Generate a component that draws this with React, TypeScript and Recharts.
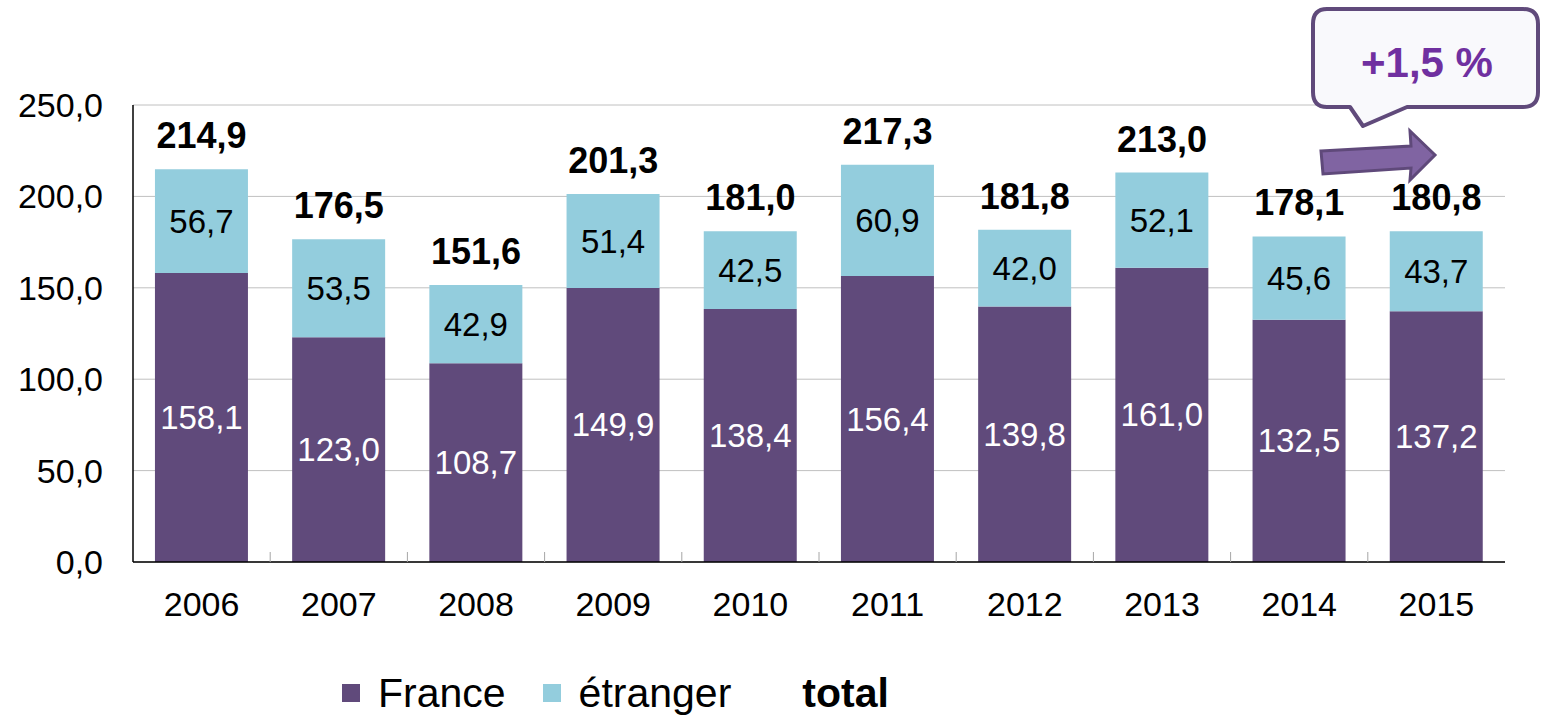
import { ComposedChart, Bar, Line, XAxis, YAxis, CartesianGrid, Legend, LabelList } from 'recharts'

const years = ['2006', '2007', '2008', '2009', '2010', '2011', '2012', '2013', '2014', '2015']
const france = [158.1, 123.0, 108.7, 149.9, 138.4, 156.4, 139.8, 161.0, 132.5, 137.2]
const etranger = [56.7, 53.5, 42.9, 51.4, 42.5, 60.9, 42.0, 52.1, 45.6, 43.7]
const totals = [214.9, 176.5, 151.6, 201.3, 181.0, 217.3, 181.8, 213.0, 178.1, 180.8]
const yTicks = [0, 50, 100, 150, 200, 250]

const CHART_W = 1542
const CHART_H = 715
const Y_AXIS_W = 133
const MARGIN = { top: 105, right: 37, left: 0, bottom: 83 }
const PLOT_W = CHART_W - Y_AXIS_W - MARGIN.right
const TICK_MARGIN = 20

const FONT = '"Liberation Sans", Arial, sans-serif'
const PURPLE = '#604a7b'
const BLUE = '#93cddd'

const fmt = (v: number) => v.toFixed(1).replace('.', ',')

const data = years.map((year, i) => ({
  year,
  france: france[i],
  etranger: etranger[i],
  total: totals[i],
}))

interface TickProps {
  x?: number
  y?: number
  payload?: { value: string; index: number }
}

function YearTick({ x = 0, y = 0, payload }: TickProps) {
  if (!payload) return null
  const step = PLOT_W / years.length
  const axisY = y - TICK_MARGIN
  const last = payload.index === years.length - 1
  return (
    <g>
      {!last && (
        <line x1={x + step / 2} x2={x + step / 2} y1={axisY} y2={axisY - 10} stroke="#a6a6a6" strokeWidth={1} />
      )}
      <text x={x} y={y} dy={34} textAnchor="middle" fontSize={34} fill="#000" fontFamily={FONT}>
        {payload.value}
      </text>
    </g>
  )
}

interface LabelProps {
  x?: number
  y?: number
  width?: number
  height?: number
  value?: number
}

const segmentLabel = (color: string) => (props: object) => {
  const { x = 0, y = 0, width = 0, height = 0, value } = props as LabelProps
  if (value == null) return null
  return (
    <text
      x={Number(x) + Number(width) / 2} y={Number(y) + Number(height) / 2}
      textAnchor="middle" dominantBaseline="central"
      fontSize={33} fill={color} fontFamily={FONT}
    >
      {fmt(Number(value))}
    </text>
  )
}

function totalLabel(props: object) {
  const { x = 0, y = 0, value } = props as LabelProps
  if (value == null) return null
  return (
    <text x={Number(x)} y={Number(y) - 21} textAnchor="middle" fontSize={36} fontWeight={700} fill="#000" fontFamily={FONT}>
      {fmt(Number(value))}
    </text>
  )
}

function LegendContent() {
  const items = [
    { label: 'France', color: PURPLE, bold: false, gap: 37 },
    { label: 'étranger', color: BLUE, bold: false, gap: 35 },
    { label: 'total', color: 'transparent', bold: true, gap: 0 },
  ]
  return (
    <div style={{ display: 'flex', alignItems: 'center', paddingLeft: 342, fontFamily: FONT, fontSize: 41, lineHeight: '50px' }}>
      {items.map(it => (
        <div key={it.label} style={{ display: 'flex', alignItems: 'center', marginRight: it.gap }}>
          <span style={{ display: 'inline-block', width: 18, height: 18, background: it.color, marginRight: 18 }} />
          <span style={{ fontWeight: it.bold ? 700 : 400, color: '#000' }}>{it.label}</span>
        </div>
      ))}
    </div>
  )
}

export default function App() {
  return (
    <div style={{ position: 'absolute', left: 0, top: 0, width: CHART_W, height: CHART_H, background: '#fff' }}>
      <ComposedChart width={CHART_W} height={CHART_H} data={data} margin={MARGIN} barCategoryGap="16%">
        <CartesianGrid vertical={false} stroke="#c0c0c0" strokeWidth={1} />
        <YAxis
          width={Y_AXIS_W}
          domain={[0, 250]}
          ticks={yTicks}
          tickFormatter={fmt}
          tickLine={false}
          tickSize={0}
          tickMargin={30}
          axisLine={{ stroke: '#000', strokeWidth: 1.5 }}
          tick={{ fontSize: 34, fill: '#000', fontFamily: FONT }}
        />
        <XAxis
          dataKey="year"
          height={70}
          tickLine={false}
          tickSize={0}
          tickMargin={TICK_MARGIN}
          axisLine={{ stroke: '#000', strokeWidth: 1.5 }}
          tick={(props: object) => <YearTick {...(props as TickProps)} />}
          interval={0}
        />
        <Bar dataKey="france" name="France" stackId="a" fill={PURPLE} isAnimationActive={false}>
          <LabelList dataKey="france" content={segmentLabel('#fff')} />
        </Bar>
        <Bar dataKey="etranger" name="étranger" stackId="a" fill={BLUE} isAnimationActive={false}>
          <LabelList dataKey="etranger" content={segmentLabel('#000')} />
        </Bar>
        <Line dataKey="total" name="total" stroke="none" dot={false} activeDot={false} isAnimationActive={false}>
          <LabelList dataKey="total" content={totalLabel} />
        </Line>
        <Legend
          layout="horizontal"
          verticalAlign="middle"
          align="center"
          content={() => <LegendContent />}
          wrapperStyle={{ top: 668, left: 0, width: CHART_W, height: 50 }}
        />
      </ComposedChart>

      {/* callout + arrow annotation */}
      <svg width={CHART_W} height={CHART_H} style={{ position: 'absolute', left: 0, top: 0, pointerEvents: 'none' }}>
        <path
          d="M 1327 9 H 1523 Q 1538 9 1538 24 V 92 Q 1538 107 1523 107 H 1407 L 1363 126 L 1350 107 H 1327 Q 1313 107 1313 92 V 24 Q 1313 9 1327 9 Z"
          fill="#f9f9fc" stroke={PURPLE} strokeWidth={4} strokeLinejoin="round"
        />
        <text x={1427} y={62} textAnchor="middle" dominantBaseline="central" fontSize={42} fontWeight={700} fill="#7030a0" fontFamily={FONT}>
          +1,5 %
        </text>
        <polygon
          points="1321,151 1411,146 1410,131 1435,155 1410,180 1411,168 1323,174"
          fill="#8064a2" stroke="#5f497a" strokeWidth={3} strokeLinejoin="miter"
        />
      </svg>
    </div>
  )
}
